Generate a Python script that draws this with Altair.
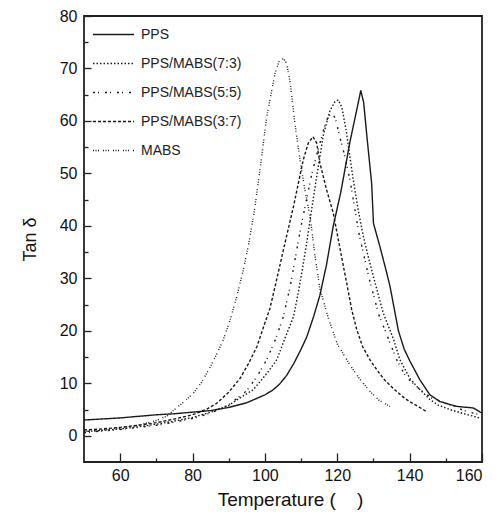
import altair as alt
import pandas as pd

FONT = "Liberation Sans"

series_names = ["PPS", "PPS/MABS(7:3)", "PPS/MABS(5:5)", "PPS/MABS(3:7)", "MABS"]

pps_t = [50, 55, 60, 65, 70, 75, 80, 85, 90, 95, 100, 102, 104, 106, 108, 110, 111.6, 113.5, 115.2, 117, 118.9,
         121, 123.5, 125.5, 126.5, 127.3, 128.1, 129.5, 130, 131.8, 133.5, 134.6, 136.9, 138.5, 140.1, 142.8,
         145.6, 148.4, 153, 157.6, 160]
pps_v = [3.0, 3.2, 3.4, 3.7, 4.0, 4.2, 4.5, 4.8, 5.4, 6.3, 7.8, 8.6, 9.8, 11.5, 13.8, 16.5, 18.9, 22.8, 26.8, 32.5,
         40.0, 46.5, 56.0, 62.5, 65.8, 63.5, 57.7, 48.1, 40.5, 36.0, 31.5, 28.4, 20.0, 16.5, 14.2, 10.7,
         7.8, 6.5, 5.6, 5.3, 4.3]

b73_t = [50, 55, 60, 65, 70, 75, 80, 85, 90, 93.3, 96.8, 98.9, 101, 103.3, 105.5, 107.9, 109, 110.3, 111.6, 113,
         114.3, 116.2, 118, 119.3, 120.3, 121.3, 122.5, 124.4, 125.8, 127.2, 128.6, 130, 132.7, 135.5, 137.3, 140,
         142, 145.6, 148, 151.1, 155, 159.4]
b73_v = [0.8, 1.0, 1.3, 1.7, 2.2, 2.8, 3.5, 4.5, 5.8, 7.3, 8.8, 10.5, 12.3, 14.5, 18.5, 22.7, 26.5, 31.5, 37.0, 43.5,
         49.4, 57.5, 62.0, 63.6, 64.0, 62.5, 58.0, 48.8, 43.0, 38.0, 34.0, 30.3, 23.4, 18.5, 14.5, 11.0,
         9.4, 6.9, 5.8, 5.0, 4.2, 3.4]

b55_t = [50, 55, 60, 65, 70, 75, 80, 85, 90, 95, 98, 100.5, 103, 105.1, 107, 108.8, 110, 111.5, 113, 114.5,
         116.5, 117.5, 118.5, 119.5, 120.5, 122, 123.5, 126, 128.8, 131.5, 133.5, 136.4, 139, 142.9, 146,
         150.2, 155, 159.4]
b55_v = [0.6, 0.9, 1.2, 1.6, 2.0, 2.6, 3.3, 4.3, 5.9, 8.6, 11.5, 14.5, 18.5, 22.7, 28.5, 35.4, 40.0, 45.0, 50.0, 54.0,
         59.0, 60.8, 61.5, 60.5, 57.5, 53.5, 48.8, 38.5, 30.0, 23.0, 19.6, 14.5, 11.2, 8.8, 7.2,
         6.2, 4.8, 4.0]

b37_t = [50, 55, 60, 65, 70, 75, 80, 84, 86.7, 90, 93.2, 95.5, 97.8, 99.5, 101.4, 103, 105.1, 107.9, 110.6, 112,
         113.3, 114.3, 115.2, 117, 118.9, 120.8, 122.6, 124, 125.4, 127, 129, 131, 133, 135.5, 138, 140, 142.5, 144.7]
b37_v = [1.1, 1.3, 1.6, 2.0, 2.5, 3.2, 4.0, 5.1, 6.2, 8.3, 11.0, 13.8, 17.0, 20.5, 24.3, 29.0, 35.4, 43.7, 52.6, 55.8,
         57.0, 55.8, 52.0, 47.0, 42.4, 35.5, 29.1, 24.0, 20.2, 17.0, 14.5, 12.5, 10.7, 9.0, 7.5, 6.5, 5.5, 4.6]

mabs_t = [50, 55, 60, 65, 70, 73, 75.7, 77.7, 80.2, 82.5, 84.5, 86.5, 88.5, 90.5, 92.2, 94, 95.5, 97, 98.7, 100.5,
          102.8, 104, 105.1, 106, 107, 108.3, 109.7, 111, 112.5, 113.8, 115.2, 117.5, 120, 123.5, 126, 129, 131.5,
          134.6]
mabs_v = [0.8, 1.1, 1.5, 2.0, 2.9, 3.8, 5.4, 6.5, 8.1, 10.2, 12.6, 15.3, 18.3, 22.3, 26.5, 31.5, 36.5, 42.5, 51.0,
          60.8, 69.1, 71.5, 71.9, 71.0, 67.2, 59.5, 52.6, 47.0, 41.8, 34.5, 28.0, 22.5, 17.5, 13.5, 11.0, 8.5, 6.8,
          5.6]

x_labels = [60, 80, 100, 120, 140, 160]
x_minor = [70, 90, 110, 130, 150]
y_labels = [0, 10, 20, 30, 40, 50, 60, 70, 80]
y_minor = [5, 15, 25, 35, 45, 55, 65, 75]

dash_styles = [[1, 0], [1.5, 2], [2, 3, 1, 6], [3, 2], [1, 1.5, 1, 1.5, 1, 4]]

rows = []
for name, ts, vs in zip(series_names,
                        [pps_t, b73_t, b55_t, b37_t, mabs_t],
                        [pps_v, b73_v, b55_v, b37_v, mabs_v]):
    for t, v in zip(ts, vs):
        rows.append({"series": name, "T": t, "tan": v})
df = pd.DataFrame(rows)

x_scale = alt.Scale(domain=[50, 160], nice=False, zero=False)
y_scale = alt.Scale(domain=[-5, 80], nice=False, zero=False)

base = alt.Chart(df)

lab_x = alt.Axis(orient="bottom", values=x_labels, tickSize=0, domain=False, grid=False,
                 labelFont=FONT, labelFontSize=16, labelColor="#111", labelPadding=5,
                 title="Temperature (\u00a0\u00a0\u00a0\u00a0)", titleFont=FONT, titleFontSize=19,
                 titleFontWeight="normal", titleColor="#111", titleX=206, titleY=37,
                 titleBaseline="middle", titleAlign="center")
lab_y = alt.Axis(orient="left", values=y_labels, tickSize=0, domain=False, grid=False,
                 labelFont=FONT, labelFontSize=16, labelColor="#111", labelPadding=7,
                 title="Tan δ", titleFont=FONT, titleFontSize=18, titleFontWeight="normal",
                 titleColor="#111", titleX=-54, titleY=223, titleBaseline="middle", titleAlign="center")

def tick_axis(orient, vals, size):
    return alt.Axis(orient=orient, values=vals, tickSize=size, offset=-size, labels=False,
                    domain=False, grid=False, title=None, tickColor="#222", tickWidth=1.3)

main = base.mark_line(strokeWidth=1.4, color="#1a1a1a").encode(
    x=alt.X("T:Q", scale=x_scale, axis=lab_x),
    y=alt.Y("tan:Q", scale=y_scale, axis=lab_y),
    strokeDash=alt.StrokeDash(
        "series:N",
        scale=alt.Scale(domain=series_names, range=dash_styles),
        legend=alt.Legend(orient="none", legendX=8, legendY=-3, title=None,
                          symbolType="stroke", symbolSize=1681, symbolStrokeWidth=1.4,
                          symbolStrokeColor="#1a1a1a", labelFont=FONT, labelFontSize=14,
                          labelColor="#222", labelOffset=6, rowPadding=-1, padding=0),
    ),
    order="T:Q",
)

t_major = base.mark_line(strokeOpacity=0).encode(
    x=alt.X("T:Q", scale=x_scale, axis=tick_axis("bottom", x_labels, 9)),
    y=alt.Y("tan:Q", scale=y_scale, axis=tick_axis("left", y_labels, 7)),
    detail="series:N",
)
t_minor = base.mark_line(strokeOpacity=0).encode(
    x=alt.X("T:Q", scale=x_scale, axis=tick_axis("bottom", x_minor, 4)),
    y=alt.Y("tan:Q", scale=y_scale, axis=tick_axis("left", y_minor, 4)),
    detail="series:N",
)

chart = alt.layer(t_major, t_minor, main).resolve_axis(
    x="independent", y="independent"
).properties(
    width=398, height=446,
    autosize=alt.AutoSizeParams(type="none"),
    padding={"left": 76, "top": 8, "right": 14, "bottom": 49},
    background="white",
).configure_view(stroke="#222", strokeWidth=1.8)

chart.save("out.html", embed_options={"renderer": "svg", "actions": False})
